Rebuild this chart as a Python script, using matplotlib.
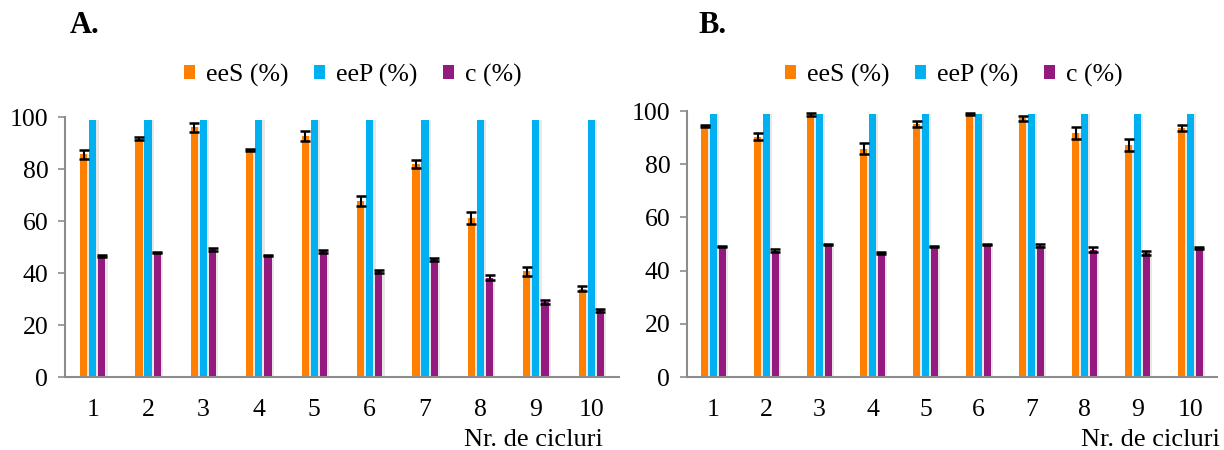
import numpy as np
import matplotlib
matplotlib.use("Agg")
import matplotlib.pyplot as plt
from matplotlib.patches import Patch

cycles = ["1", "2", "3", "4", "5", "6", "7", "8", "9", "10"]
series_names = ["eeS (%)", "eeP (%)", "c (%)"]

# panel A
ees_a = [85.6, 91.7, 96.0, 87.2, 92.6, 67.6, 81.9, 61.3, 40.6, 33.9]
ees_a_err = [1.8, 0.5, 1.7, 0.4, 2.0, 2.0, 1.7, 2.3, 1.7, 1.0]
eep_a = [99, 99, 99, 99, 99, 99, 99, 99, 99, 99]
c_a = [46.6, 47.9, 49.2, 46.9, 48.3, 40.6, 45.2, 38.2, 29.0, 25.6]
c_a_err = [0.5, 0.2, 0.6, 0.2, 0.5, 0.5, 0.5, 1.0, 0.8, 0.5]

# panel B
ees_b = [94.4, 90.4, 98.7, 85.9, 95.2, 98.9, 97.2, 91.7, 87.2, 93.6]
ees_b_err = [0.4, 1.3, 0.5, 2.2, 1.1, 0.5, 0.9, 2.2, 2.1, 1.2]
eep_b = [99, 99, 99, 99, 99, 99, 99, 99, 99, 99]
c_b = [49.0, 47.5, 49.8, 46.6, 49.0, 49.8, 49.4, 47.8, 46.7, 48.5]
c_b_err = [0.2, 0.5, 0.2, 0.5, 0.2, 0.2, 0.5, 0.9, 0.7, 0.5]

colors = ["#FF8000", "#00B0F0", "#951A80"]
plt.rcParams["font.family"] = ["Liberation Serif", "DejaVu Serif"]

fig = plt.figure(figsize=(12.24, 4.5), dpi=100)


def draw_panel(ax, ees, ees_err, eep, c, c_err, leg_x, xlab_x):
    x = np.arange(1, len(cycles) + 1)
    w = 0.13
    offs = [-0.165, 0.0, 0.165]
    vals = [ees, eep, c]
    errs = [ees_err, None, c_err]
    for off, v, e, col in zip(offs, vals, errs, colors):
        # soft shadow
        ax.bar(x + off + 0.025, v, w + 0.03, color="#d9d9d9", alpha=0.6,
               zorder=1, linewidth=0)
        ax.bar(x + off, v, w, color=col, zorder=2, linewidth=0)
        if e is not None:
            ax.errorbar(x + off, v, yerr=e, fmt="none", ecolor="black",
                        elinewidth=1.5, capsize=3.5, capthick=1.8, zorder=3)
    ax.set_xlim(0.5, 10.5)
    ax.set_ylim(0, 100)
    ax.set_yticks(np.arange(0, 101, 20))
    ax.set_xticks(x)
    ax.set_xticklabels(cycles)
    for s in ["top", "right"]:
        ax.spines[s].set_visible(False)
    for s in ["left", "bottom"]:
        ax.spines[s].set_color("#8c8c8c")
        ax.spines[s].set_linewidth(1.5)
    ax.tick_params(axis="y", direction="out", length=5, width=1.2,
                   color="#8c8c8c", labelsize=18.5, pad=7)
    ax.tick_params(axis="x", length=0, labelsize=18.5, pad=16)
    fig.text(xlab_x, 0.008, "Nr. de cicluri", ha="right", va="baseline",
             fontsize=19)
    handles = [Patch(facecolor=col, edgecolor="none") for col in colors]
    ax.legend(handles, series_names, loc="center", ncol=3,
              bbox_to_anchor=(leg_x, 0.833), bbox_transform=fig.transFigure,
              frameon=False, fontsize=18.5, handlelength=0.45, handleheight=0.45,
              handletextpad=0.4, columnspacing=1.0)


ax_a = fig.add_axes([0.0531, 0.1622, 0.4526, 0.5778])
draw_panel(ax_a, ees_a, ees_a_err, eep_a, c_a, c_a_err, 0.288, 0.4926)

ax_b = fig.add_axes([0.5613, 0.1622, 0.4330, 0.5911])
draw_panel(ax_b, ees_b, ees_b_err, eep_b, c_b, c_b_err, 0.779, 0.9967)

fig.text(0.057, 0.944, "A.", fontsize=22, fontweight="bold", ha="left", va="center")
fig.text(0.571, 0.944, "B.", fontsize=22, fontweight="bold", ha="left", va="center")

fig.savefig("out.png", dpi=100)
